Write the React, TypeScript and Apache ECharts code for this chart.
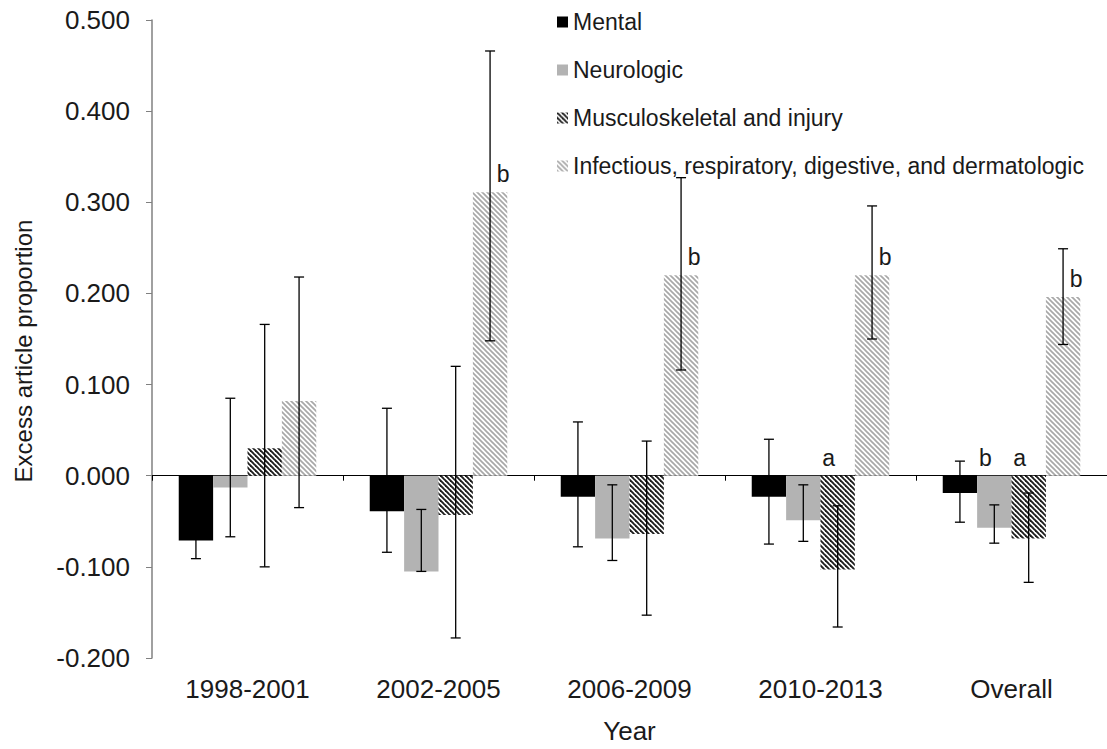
import React, { useEffect, useRef } from "react";
import * as echarts from "echarts";

const categories = ["1998-2001", "2002-2005", "2006-2009", "2010-2013", "Overall"];
const seriesNames = [
  "Mental",
  "Neurologic",
  "Musculoskeletal and injury",
  "Infectious, respiratory, digestive, and dermatologic",
];
const yTitle = "Excess article proportion";
const xTitle = "Year";

const mental = [-0.071, -0.039, -0.023, -0.023, -0.019];
const mentalLow = [-0.091, -0.084, -0.078, -0.075, -0.051];
const mentalHigh = [-0.051, 0.074, 0.059, 0.040, 0.016];

const neuro = [-0.013, -0.105, -0.069, -0.049, -0.057];
const neuroLow = [-0.067, -0.105, -0.093, -0.072, -0.074];
const neuroHigh = [0.085, -0.037, -0.010, -0.010, -0.032];

const musc = [0.030, -0.043, -0.064, -0.103, -0.069];
const muscLow = [-0.100, -0.178, -0.153, -0.166, -0.117];
const muscHigh = [0.166, 0.120, 0.038, -0.033, -0.019];

const infect = [0.082, 0.311, 0.220, 0.220, 0.196];
const infectLow = [-0.035, 0.148, 0.116, 0.150, 0.144];
const infectHigh = [0.218, 0.466, 0.327, 0.296, 0.249];

const letterCats = [3, 4, 4, 1, 2, 3, 4];
const letterSeries = [2, 1, 2, 3, 3, 3, 3];
const letterTexts = ["a", "b", "a", "b", "b", "b", "b"];

const yTicks = { min: -0.2, max: 0.5, interval: 0.1 };

const FONT = "'Liberation Sans', Arial, Helvetica, sans-serif";
const TEXT = "#1a1a1a";
const GAP = 0.28;

function stripes(fg: string, bg: string, s: number, lw: number) {
  const c = document.createElement("canvas");
  c.width = s;
  c.height = s;
  const ctx = c.getContext("2d")!;
  ctx.fillStyle = bg;
  ctx.fillRect(0, 0, s, s);
  ctx.strokeStyle = fg;
  ctx.lineWidth = lw;
  for (const k of [-s, 0, s]) {
    ctx.beginPath();
    ctx.moveTo(k - 1, -1);
    ctx.lineTo(k + s + 1, s + 1);
    ctx.stroke();
  }
  return { image: c, repeat: "repeat", imageWidth: s, imageHeight: s } as any;
}

export default function App() {
  const ref = useRef<HTMLDivElement>(null);
  useEffect(() => {
    if (!ref.current) return;
    const chart = echarts.init(ref.current, null, { renderer: "svg" });
    const values = [mental, neuro, musc, infect];
    const lows = [mentalLow, neuroLow, muscLow, infectLow];
    const highs = [mentalHigh, neuroHigh, muscHigh, infectHigh];
    const colors: any[] = [
      "#000000",
      "#b3b3b3",
      stripes("#1e1e1e", "#ffffff", 5, 1.9),
      stripes("#a8a8a8", "#ffffff", 5, 1.7),
    ];

    const barSeries = values.map((v, k) => ({
      type: "bar",
      name: seriesNames[k],
      data: v,
      xAxisIndex: 0,
      yAxisIndex: 0,
      barGap: "0%",
      barCategoryGap: GAP * 100 + "%",
      itemStyle: { color: colors[k] },
      z: 2,
    }));

    const errSeries = values.map((_, k) => ({
      type: "custom",
      name: "err" + k,
      xAxisIndex: 0,
      yAxisIndex: 0,
      z: 5,
      data: categories.map((_, i) => [i, lows[k][i], highs[k][i]]),
      renderItem: (params: any, api: any) => {
        const band = api.size([1, 0])[0];
        const bw = (band * (1 - GAP)) / 4;
        const lo = api.coord([api.value(0), api.value(1)]);
        const hi = api.coord([api.value(0), api.value(2)]);
        const x = lo[0] + (k - 1.5) * bw;
        const st = { stroke: "#000", lineWidth: 1.3 };
        return {
          type: "group",
          children: [
            { type: "line", shape: { x1: x, y1: lo[1], x2: x, y2: hi[1] }, style: st },
            { type: "line", shape: { x1: x - 5, y1: lo[1], x2: x + 5, y2: lo[1] }, style: st },
            { type: "line", shape: { x1: x - 5, y1: hi[1], x2: x + 5, y2: hi[1] }, style: st },
          ],
        };
      },
    }));

    const letterSer = {
      type: "custom",
      name: "letters",
      xAxisIndex: 0,
      yAxisIndex: 0,
      z: 6,
      data: letterCats.map((c, i) => [c, values[letterSeries[i]][c]]),
      renderItem: (params: any, api: any) => {
        const i = params.dataIndex;
        const k = letterSeries[i];
        const v = api.value(1);
        const band = api.size([1, 0])[0];
        const bw = (band * (1 - GAP)) / 4;
        const p = api.coord([api.value(0), Math.max(v, 0)]);
        const x = p[0] + (k - 1.5) * bw + (v > 0 ? 13 : -9);
        return {
          type: "text",
          x,
          y: p[1] - 18,
          style: {
            text: letterTexts[i],
            fontSize: 23,
            fontFamily: FONT,
            fill: TEXT,
            align: "center",
            verticalAlign: "middle",
          },
        };
      },
    };

    chart.setOption({
      animation: false,
      backgroundColor: "#ffffff",
      textStyle: { fontFamily: FONT },
      grid: { left: 152, right: 0, top: 20, bottom: 89, containLabel: false },
      graphic: [
        {
          type: "text",
          x: 23,
          y: 351,
          rotation: Math.PI / 2,
          style: {
            text: yTitle,
            fontSize: 24,
            fontFamily: FONT,
            fill: TEXT,
            align: "center",
            verticalAlign: "middle",
          },
        },
      ],
      legend: {
        data: seriesNames,
        orient: "vertical",
        left: 552,
        top: 4,
        itemWidth: 11,
        itemHeight: 11,
        itemGap: 22,
        icon: "rect",
        selectedMode: false,
        textStyle: { fontSize: 23, color: TEXT, fontFamily: FONT, lineHeight: 26 },
      },
      xAxis: [
        {
          type: "category",
          data: categories,
          axisLine: { onZero: true, lineStyle: { color: "#000", width: 1.2 } },
          axisTick: { show: true, interval: 0, length: 5, lineStyle: { color: "#000" } },
          axisLabel: { show: false },
          splitLine: { show: false },
        },
        {
          type: "category",
          data: categories,
          position: "bottom",
          axisLine: { show: false, onZero: false },
          axisTick: { show: false },
          axisLabel: { show: true, fontSize: 26, color: TEXT, fontFamily: FONT, margin: 18 },
          name: xTitle,
          nameLocation: "middle",
          nameGap: 60,
          nameTextStyle: { fontSize: 26, color: TEXT, fontFamily: FONT },
        },
      ],
      yAxis: {
        type: "value",
        min: yTicks.min,
        max: yTicks.max,
        interval: yTicks.interval,
        axisLine: { show: true, lineStyle: { color: "#808080", width: 1.5 } },
        axisTick: { show: true, inside: false, length: 6, lineStyle: { color: "#808080" } },
        splitLine: { show: false },
        axisLabel: {
          fontSize: 26,
          color: TEXT,
          fontFamily: FONT,
          margin: 22,
          formatter: (v: number) => v.toFixed(3),
        },
      },
      series: [...barSeries, ...errSeries, letterSer],
    });
    return () => chart.dispose();
  }, []);
  return (
    <div
      ref={ref}
      style={{ position: "absolute", left: 0, top: 0, width: 1107, height: 749 }}
    />
  );
}
